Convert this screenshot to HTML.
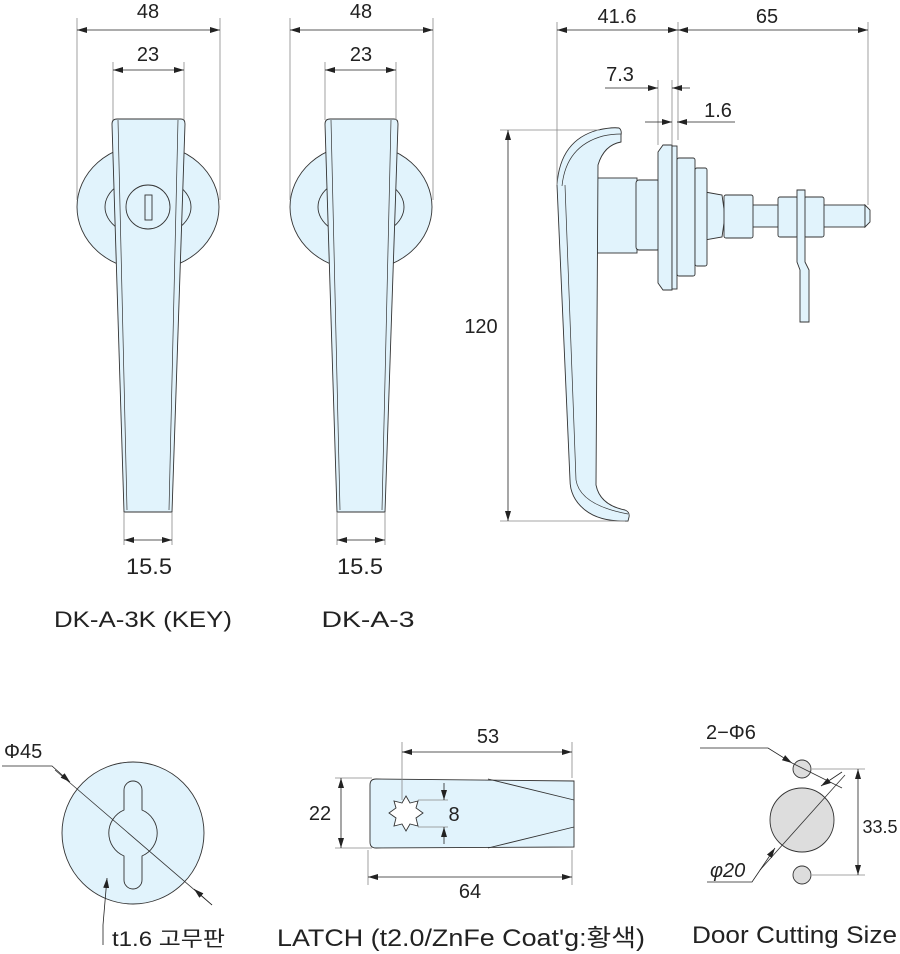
<!DOCTYPE html>
<html><head><meta charset="utf-8"><style>
html,body{margin:0;padding:0;background:#fff;}
svg{display:block;}
text{font-family:"Liberation Sans","Noto Sans CJK KR",sans-serif;fill:#222;}
</style></head><body>
<svg width="900" height="954" viewBox="0 0 900 954" xmlns="http://www.w3.org/2000/svg">
<defs>
<marker id="a" viewBox="0 0 10 6" refX="10" refY="3" markerWidth="10" markerHeight="6" orient="auto-start-reverse" markerUnits="userSpaceOnUse"><path d="M0,0L10,3L0,6z" fill="#222"/></marker>
</defs>
<g stroke="#333" stroke-width="0.9" fill="#e1f3fc">
<ellipse cx="148" cy="207" rx="71" ry="63"/>
<ellipse cx="148" cy="207" rx="43" ry="30"/>
<path d="M117,119 L181,119 Q185,119 185,124 L172,512 L124,512 L112,124 Q112,119 117,119Z"/>
<path d="M118,120 L127,510 M178,120 L169,510" fill="none" stroke-width="0.7"/>
<circle cx="148" cy="207" r="22"/>
<rect x="145" y="195" width="7" height="25" fill="none"/>
</g>
<g stroke="#333" stroke-width="0.9" fill="#e1f3fc">
<ellipse cx="361" cy="207" rx="71" ry="63"/>
<ellipse cx="361" cy="207" rx="43" ry="30"/>
<path d="M330,119 L394,119 Q398,119 398,124 L385,512 L337,512 L325,124 Q325,119 330,119Z"/>
<path d="M331,120 L340,510 M391,120 L382,510" fill="none" stroke-width="0.7"/>
</g>
<g stroke="#333" stroke-width="0.9" fill="#e1f3fc">
<rect x="597" y="178" width="40" height="75"/>
<rect x="636" y="180" width="24" height="70" rx="3"/>
<rect x="750" y="205" width="115" height="22"/>
<path d="M865,205 L870,210 L870,222 L865,227Z"/>
<path d="M705,192 L722,195 L725,216 L722,237 L705,240Z"/>
<rect x="724" y="195" width="29" height="43" rx="2"/>
<rect x="778" y="197" width="20" height="40" rx="2"/>
<rect x="804" y="197" width="20" height="40" rx="2"/>
<path d="M797,190 L805,190 L805,262 L809,270 L809,322 L800,322 L800,270 L797,262Z"/>
<path d="M658,152 L663,145 L672,145 L672,290 L663,290 L658,283Z"/>
<rect x="672" y="146" width="5" height="143"/>
<rect x="677" y="158" width="18" height="118" rx="2"/>
<rect x="695" y="168" width="12" height="98" rx="2"/>
<path d="M557,185 Q560,140 598,130 Q612,127 619,128 Q622,130 621,135 L621,142 Q604,145 598,165 L596,485 Q600,505 625,510 Q630,512 629,517 L628,521 Q600,522 585,510 Q570,498 570,480 Z"/>
<path d="M562,186 Q566,146 603,136 Q612,134 621,134 M565,185 L576,480 Q580,505 628,514" fill="none" stroke-width="0.7"/>
</g>
<g stroke="#333" stroke-width="0.9" fill="#e1f3fc">
<circle cx="133" cy="833" r="71"/>
<path d="M124,790 A9,9 0 0 1 142,790 L142,810 A25,25 0 0 1 142,856 L142,880 A9,9 0 0 1 124,880 L124,856 A25,25 0 0 1 124,810 Z"/>
</g>
<line x1="55" y1="770" x2="212" y2="905" stroke="#333" stroke-width="0.8"/>
<g stroke="#333" stroke-width="0.9" fill="#e1f3fc">
<path d="M376,779 L574,781 L574,847 L376,848 Q370,848 370,842 L370,785 Q370,779 376,779Z"/>
<path d="M488,779 L574,800 M488,848 L574,827" fill="none"/>
<polygon fill="#fff" points="406,796 410,803 418,801 416,808 423,813 416,818 418,826 410,824 406,831 402,824 394,826 396,818 389,813 396,808 394,801 402,803"/>
</g>
<g stroke="#333" stroke-width="0.9" fill="#ddd">
<circle cx="802" cy="769" r="9"/><circle cx="802" cy="820" r="32"/><circle cx="802" cy="875" r="9"/>
</g>
<line x1="845" y1="775" x2="760" y2="870" stroke="#333" stroke-width="0.8"/>
<line x1="792" y1="763" x2="842" y2="788" stroke="#333" stroke-width="0.8"/>
<g stroke="#888" stroke-width="0.8" fill="none">
<line x1="77" y1="18" x2="77" y2="200"/><line x1="220" y1="18" x2="220" y2="200"/>
<line x1="113" y1="62" x2="113" y2="120"/><line x1="184" y1="62" x2="184" y2="120"/>
<line x1="124" y1="512" x2="124" y2="545"/><line x1="172" y1="512" x2="172" y2="545"/>
<line x1="290" y1="18" x2="290" y2="200"/><line x1="433" y1="18" x2="433" y2="200"/>
<line x1="325" y1="62" x2="325" y2="120"/><line x1="396" y1="62" x2="396" y2="120"/>
<line x1="337" y1="512" x2="337" y2="545"/><line x1="385" y1="512" x2="385" y2="545"/>
<line x1="557" y1="22" x2="557" y2="185"/><line x1="678" y1="22" x2="678" y2="140"/><line x1="868" y1="22" x2="868" y2="205"/>
<line x1="658" y1="80" x2="658" y2="145"/><line x1="672" y1="80" x2="672" y2="145"/>
<line x1="500" y1="130" x2="600" y2="130"/><line x1="500" y1="521" x2="625" y2="521"/>
<line x1="402" y1="742" x2="402" y2="800"/><line x1="572" y1="742" x2="572" y2="778"/>
<line x1="335" y1="778" x2="372" y2="778"/><line x1="335" y1="848" x2="372" y2="848"/>
<line x1="368" y1="850" x2="368" y2="885"/><line x1="572" y1="850" x2="572" y2="885"/>
<line x1="418" y1="800" x2="448" y2="800"/><line x1="418" y1="827" x2="448" y2="827"/>
<line x1="812" y1="769" x2="865" y2="769"/><line x1="812" y1="875" x2="865" y2="875"/>
</g>
<g stroke="#222" stroke-width="0.8" fill="none">
<line x1="77" y1="30" x2="220" y2="30" marker-start="url(#a)" marker-end="url(#a)"/>
<line x1="113" y1="70" x2="184" y2="70" marker-start="url(#a)" marker-end="url(#a)"/>
<line x1="124" y1="540" x2="172" y2="540" marker-start="url(#a)" marker-end="url(#a)"/>
<line x1="290" y1="30" x2="433" y2="30" marker-start="url(#a)" marker-end="url(#a)"/>
<line x1="325" y1="70" x2="396" y2="70" marker-start="url(#a)" marker-end="url(#a)"/>
<line x1="337" y1="540" x2="385" y2="540" marker-start="url(#a)" marker-end="url(#a)"/>
<line x1="557" y1="30" x2="678" y2="30" marker-start="url(#a)" marker-end="url(#a)"/>
<line x1="678" y1="30" x2="868" y2="30" marker-start="url(#a)" marker-end="url(#a)"/>
<line x1="605" y1="88" x2="658" y2="88" marker-end="url(#a)"/><line x1="690" y1="88" x2="672" y2="88" marker-end="url(#a)"/>
<line x1="645" y1="122" x2="672" y2="122" marker-end="url(#a)"/><line x1="735" y1="122" x2="677" y2="122" marker-end="url(#a)"/>
<line x1="508" y1="130" x2="508" y2="521" marker-start="url(#a)" marker-end="url(#a)"/>
<line x1="402" y1="752" x2="572" y2="752" marker-start="url(#a)" marker-end="url(#a)"/>
<line x1="341" y1="778" x2="341" y2="848" marker-start="url(#a)" marker-end="url(#a)"/>
<line x1="368" y1="877" x2="572" y2="877" marker-start="url(#a)" marker-end="url(#a)"/>
<line x1="444" y1="783" x2="444" y2="800" marker-end="url(#a)"/><line x1="444" y1="844" x2="444" y2="827" marker-end="url(#a)"/>
<line x1="858" y1="769" x2="858" y2="875" marker-start="url(#a)" marker-end="url(#a)"/>
<polyline points="2,766 52,766 70,782" marker-end="url(#a)"/>
<line x1="212" y1="905" x2="194" y2="889" marker-end="url(#a)"/>
<polyline points="103,945 103,925 107,878" marker-end="url(#a)"/>
<polyline points="700,748 768,748 792,763" marker-end="url(#a)"/>
<line x1="842" y1="772" x2="821" y2="786" marker-end="url(#a)"/>
<polyline points="707,882 752,882 775,848" marker-end="url(#a)"/>
</g>
<g font-size="20">
<text x="148" y="18" text-anchor="middle">48</text><text x="148" y="61" text-anchor="middle">23</text>
<text x="149" y="574" text-anchor="middle" font-size="22" textLength="46" lengthAdjust="spacingAndGlyphs">15.5</text>
<text x="361" y="18" text-anchor="middle">48</text><text x="361" y="61" text-anchor="middle">23</text>
<text x="360" y="574" text-anchor="middle" font-size="22" textLength="46" lengthAdjust="spacingAndGlyphs">15.5</text>
<text x="617" y="23" text-anchor="middle">41.6</text><text x="767" y="23" text-anchor="middle">65</text>
<text x="620" y="81" text-anchor="middle">7.3</text><text x="718" y="117" text-anchor="middle">1.6</text>
<text x="481" y="333" text-anchor="middle">120</text>
<text x="143" y="627" text-anchor="middle" font-size="22" textLength="178" lengthAdjust="spacingAndGlyphs">DK-A-3K (KEY)</text>
<text x="368" y="627" text-anchor="middle" font-size="22" textLength="93" lengthAdjust="spacingAndGlyphs">DK-A-3</text>
<text x="4" y="758">Φ45</text>
<text x="488" y="743" text-anchor="middle">53</text>
<text x="320" y="820" text-anchor="middle">22</text><text x="454" y="821" text-anchor="middle">8</text>
<text x="470" y="898" text-anchor="middle">64</text>
<text x="706" y="739">2−Φ6</text>
<text x="880" y="833" text-anchor="middle" font-size="18">33.5</text>
<text x="710" y="877" font-style="italic">φ20</text>
<text x="112" y="946" font-size="21" textLength="113" lengthAdjust="spacingAndGlyphs">t1.6 고무판</text>
<text x="277" y="946" font-size="24" textLength="368" lengthAdjust="spacingAndGlyphs">LATCH (t2.0/ZnFe Coat'g:황색)</text>
<text x="692" y="943" font-size="24" textLength="205" lengthAdjust="spacingAndGlyphs">Door Cutting Size</text>
</g>
</svg>
</body></html>
